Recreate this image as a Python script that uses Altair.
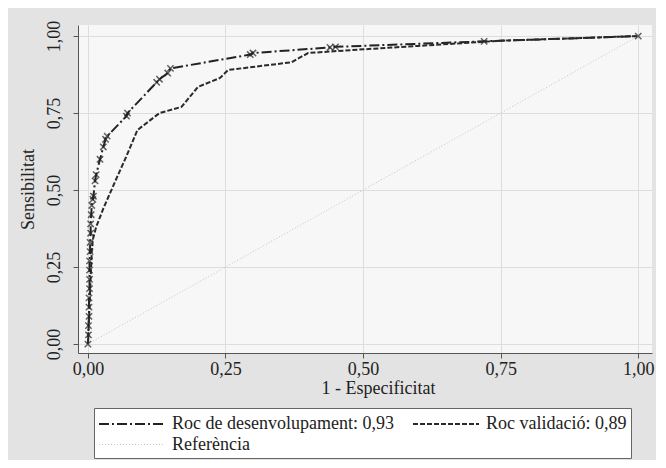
import altair as alt
import pandas as pd

# Development ROC curve (1 - specificity, sensitivity)
dev_x = [0, 0.001, 0.001, 0.002, 0.002, 0.002, 0.003, 0.003, 0.003, 0.003, 0.004, 0.004,
         0.005, 0.005, 0.006, 0.007, 0.009, 0.010, 0.013, 0.015, 0.022, 0.028, 0.032, 0.035,
         0.070, 0.072, 0.125, 0.130, 0.145, 0.150, 0.295, 0.300, 0.440, 0.450, 0.720, 1.0]
dev_y = [0, 0.03, 0.06, 0.09, 0.12, 0.15, 0.18, 0.21, 0.24, 0.27, 0.30, 0.33,
         0.36, 0.39, 0.42, 0.45, 0.47, 0.48, 0.53, 0.55, 0.60, 0.64, 0.665, 0.675,
         0.740, 0.750, 0.850, 0.860, 0.880, 0.895, 0.940, 0.945, 0.963, 0.965, 0.983, 1.0]

# Validation ROC curve
val_x = [0, 0.003, 0.005, 0.007, 0.009, 0.015, 0.028, 0.050, 0.070, 0.090, 0.130, 0.170,
         0.200, 0.240, 0.255, 0.370, 0.400, 0.500, 0.600, 0.750, 1.0]
val_y = [0, 0.12, 0.22, 0.30, 0.34, 0.38, 0.44, 0.53, 0.61, 0.695, 0.750, 0.770,
         0.835, 0.864, 0.890, 0.915, 0.945, 0.957, 0.968, 0.985, 1.0]

# Reference diagonal
ref_x = [0, 1]
ref_y = [0, 1]

dev_name = "Roc de desenvolupament: 0,93"
val_name = "Roc validació: 0,89"
ref_name = "Referència"
# legend fills column by column: dev / ref in first column, val in second
legend_order = [dev_name, ref_name, val_name]
tick_values = [0, 0.25, 0.5, 0.75, 1.0]

rows = []
for name, xs, ys in zip([dev_name, val_name, ref_name], [dev_x, val_x, ref_x], [dev_y, val_y, ref_y]):
    for i, (x, y) in enumerate(zip(xs, ys)):
        rows.append({"series": name, "i": i, "x": x, "y": y})
df = pd.DataFrame(rows)
dev_df = df[df["series"] == dev_name]

serif = "Liberation Serif, Times New Roman, serif"
label_expr = "replace(format(datum.value, '.2f'), '.', ',')"

xscale = alt.Scale(domain=[-0.018, 1.025], nice=False, zero=False)
yscale = alt.Scale(domain=[-0.029, 1.036], nice=False, zero=False)

xaxis = alt.Axis(values=tick_values, labelExpr=label_expr, title="1 - Especificitat",
                 tickSize=5, labelPadding=2, titlePadding=1, titleX=300)
yaxis = alt.Axis(values=tick_values, labelExpr=label_expr, title="Sensibilitat",
                 tickSize=5, labelAngle=270, labelAlign="center", labelBaseline="bottom",
                 labelPadding=10, titlePadding=8)

lines = alt.Chart(df).mark_line(clip=True).encode(
    x=alt.X("x:Q", scale=xscale, axis=xaxis),
    y=alt.Y("y:Q", scale=yscale, axis=yaxis),
    order="i:Q",
    color=alt.Color("series:N", title=None,
                    scale=alt.Scale(domain=legend_order, range=["#222222", "#c4c4c4", "#2a2a2a"])),
    strokeDash=alt.StrokeDash("series:N", title=None,
                              scale=alt.Scale(domain=legend_order,
                                              range=[[10, 3, 2, 3], [1, 2], [5, 2]])),
    strokeWidth=alt.StrokeWidth("series:N", title=None,
                                scale=alt.Scale(type="ordinal", domain=legend_order,
                                                range=[2, 1, 2])),
)

points = alt.Chart(dev_df).mark_point(
    shape="M-1,-1L1,1M-1,1L1,-1", filled=False, size=40, strokeWidth=1.5, color="#222222", clip=True
).encode(
    x=alt.X("x:Q", scale=xscale),
    y=alt.Y("y:Q", scale=yscale),
)

chart = (lines + points).properties(
    width=574,
    height=328,
    background="#e3e3e3",
    autosize=alt.AutoSizeParams(type="none"),
    padding={"left": 70, "top": 17, "right": 4, "bottom": 107},
).configure_view(
    fill="#f7f7f7", stroke=None
).configure_axis(
    labelFont=serif, titleFont=serif, labelFontSize=18, titleFontSize=18,
    labelColor="#222222", titleColor="#222222", titleFontWeight="normal",
    domainColor="#555555", tickColor="#555555", gridColor="#dddddd", grid=True,
).configure_legend(
    orient="none", legendX=16, legendY=383, columns=2,
    fillColor="#ffffff", strokeColor="#666666", padding=4,
    symbolType="M-1,0H5", symbolSize=484, labelFont=serif, labelFontSize=18,
    labelColor="#222222", labelOffset=50, columnPadding=15, rowPadding=-2,
    symbolStrokeWidth=2, labelLimit=400,
)

chart.save("out.html", embed_options={"renderer": "svg", "actions": False})
